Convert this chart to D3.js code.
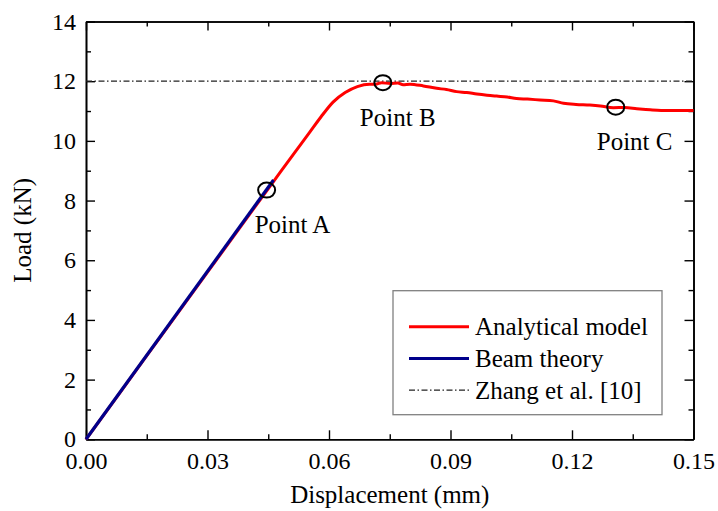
<!DOCTYPE html>
<meta charset="utf-8">
<style>
  body { margin: 0; background: #fff; }
  svg text { font-family: "Liberation Serif", "DejaVu Serif", serif; fill: #000; }
</style>
<body>
<div class="chart"></div>
<script src="https://d3js.org/d3.v7.min.js"></script>
<script>
// values
const modelDisp = [0, 0.0150, 0.0300, 0.0462, 0.0512, 0.0553, 0.0580, 0.0610, 0.0640, 0.0670, 0.0700,
    0.0715, 0.0730, 0.0751, 0.0770, 0.0783, 0.0800, 0.0833, 0.0866, 0.0890, 0.0915, 0.0940, 0.0965,
    0.0990, 0.1014, 0.1040, 0.1063, 0.1090, 0.1121, 0.1154, 0.1179, 0.1210, 0.1244, 0.1270, 0.1302,
    0.1330, 0.1360, 0.1393, 0.1420, 0.1460, 0.1500];
const modelLoad = [0, 2.80, 5.60, 8.62, 9.55, 10.30, 10.80, 11.30, 11.62, 11.82, 11.90,
    11.90, 11.95, 11.92, 11.94, 11.88, 11.90, 11.84, 11.76, 11.72, 11.65, 11.62, 11.57,
    11.53, 11.50, 11.47, 11.42, 11.40, 11.37, 11.34, 11.26, 11.22, 11.20, 11.17, 11.11,
    11.12, 11.08, 11.04, 11.02, 11.02, 11.02];
const beamDisp = [0, 0.0463];
const beamLoad = [0, 8.69];
const zhangLoad = 12;
const pointDisp = [0.0446, 0.0733, 0.1308];
const pointLoad = [8.35, 11.95, 11.13];
const pointNames = ["Point A", "Point B", "Point C"];
const xTicks = [0, 0.03, 0.06, 0.09, 0.12, 0.15];
const yTicks = [0, 2, 4, 6, 8, 10, 12, 14];
const legendNames = ["Analytical model", "Beam theory", "Zhang et al. [10]"];

const width = 718, height = 511;
const margin = {top: 21.5, right: 24.5, bottom: 71.7, left: 86};
const red = "#ff0000", navy = "#00008b";
const dashDot = "6,2.5,1.5,2.5";
const serif = '"Liberation Serif", "DejaVu Serif", serif';

let svg = d3.select(".chart").append("svg")
    .attr("width", width)
    .attr("height", height);

let x = d3.scaleLinear().domain([0, 0.15]).range([margin.left, width - margin.right]);
let y = d3.scaleLinear().domain([0, 14]).range([height - margin.bottom, margin.top]);

let minorX = d3.range(0.015, 0.15, 0.03);
let minorY = d3.range(1, 14, 2);

function styleAxis(g) {
    g.attr("font-family", serif).attr("font-size", 24);
    g.selectAll("path.domain").attr("stroke", "#000").attr("stroke-width", 1.6);
    g.selectAll(".tick line").attr("stroke", "#000").attr("stroke-width", 1.4);
    g.selectAll("text").attr("fill", "#000");
}

// bottom / top axes
svg.append("g")
    .attr("transform", `translate(0,${y(0)})`)
    .call(d3.axisBottom(x).tickValues(xTicks).tickFormat(d3.format(".2f")).tickSize(-9).tickSizeOuter(0).tickPadding(13))
    .call(styleAxis);
svg.append("g")
    .attr("transform", `translate(0,${y(0)})`)
    .call(d3.axisBottom(x).tickValues(minorX).tickFormat("").tickSize(-5).tickSizeOuter(0))
    .call(styleAxis);
svg.append("g")
    .attr("transform", `translate(0,${y(14)})`)
    .call(d3.axisTop(x).tickValues(xTicks).tickFormat("").tickSize(-9).tickSizeOuter(0))
    .call(styleAxis);
svg.append("g")
    .attr("transform", `translate(0,${y(14)})`)
    .call(d3.axisTop(x).tickValues(minorX).tickFormat("").tickSize(-5).tickSizeOuter(0))
    .call(styleAxis);

// left / right axes
svg.append("g")
    .attr("transform", `translate(${x(0)},0)`)
    .call(d3.axisLeft(y).tickValues(yTicks).tickSize(-9).tickSizeOuter(0).tickPadding(10))
    .call(styleAxis);
svg.append("g")
    .attr("transform", `translate(${x(0)},0)`)
    .call(d3.axisLeft(y).tickValues(minorY).tickFormat("").tickSize(-5).tickSizeOuter(0))
    .call(styleAxis);
svg.append("g")
    .attr("transform", `translate(${x(0.15)},0)`)
    .call(d3.axisRight(y).tickValues(yTicks).tickFormat("").tickSize(-9).tickSizeOuter(0))
    .call(styleAxis);
svg.append("g")
    .attr("transform", `translate(${x(0.15)},0)`)
    .call(d3.axisRight(y).tickValues(minorY).tickFormat("").tickSize(-5).tickSizeOuter(0))
    .call(styleAxis);

// axis titles
svg.append("text")
    .attr("x", (x(0) + x(0.15)) / 2)
    .attr("y", 503)
    .attr("text-anchor", "middle")
    .attr("font-family", serif)
    .attr("font-size", 25)
    .text("Displacement (mm)");
svg.append("text")
    .attr("transform", `translate(31,${(y(0) + y(14)) / 2}) rotate(-90)`)
    .attr("text-anchor", "middle")
    .attr("font-family", serif)
    .attr("font-size", 25)
    .text("Load (kN)");

// Zhang et al. reference line
svg.append("line")
    .attr("x1", x(0)).attr("x2", x(0.15))
    .attr("y1", y(zhangLoad)).attr("y2", y(zhangLoad))
    .attr("stroke", "#222")
    .attr("stroke-width", 1.2)
    .attr("stroke-dasharray", dashDot);

let line = d3.line()
    .x(d => x(d[0]))
    .y(d => y(d[1]))
    .curve(d3.curveMonotoneX);

svg.append("path")
    .datum(d3.zip(modelDisp, modelLoad))
    .attr("fill", "none")
    .attr("stroke", red)
    .attr("stroke-width", 3)
    .attr("stroke-linejoin", "round")
    .attr("d", line);

svg.append("path")
    .datum(d3.zip(beamDisp, beamLoad))
    .attr("fill", "none")
    .attr("stroke", navy)
    .attr("stroke-width", 3.2)
    .attr("d", line);

// marked points
let labelDx = [-12, -23, -19];
let pts = svg.append("g")
    .selectAll("g")
    .data(d3.range(pointNames.length))
    .join("g")
    .attr("transform", i => `translate(${x(pointDisp[i])},${y(pointLoad[i])})`);
pts.append("ellipse")
    .attr("rx", 8.5).attr("ry", 7.5)
    .attr("fill", "none")
    .attr("stroke", "#000")
    .attr("stroke-width", 2);
pts.append("text")
    .attr("x", i => labelDx[i])
    .attr("y", 43)
    .attr("font-family", serif)
    .attr("font-size", 25)
    .text(i => pointNames[i]);

// legend
let lg = svg.append("g").attr("transform", "translate(393,290.7)");
lg.append("rect")
    .attr("width", 269).attr("height", 124)
    .attr("fill", "#fff")
    .attr("stroke", "#808080")
    .attr("stroke-width", 1.3);
let legendStyle = [
    {color: red, width: 3, dash: null},
    {color: navy, width: 3, dash: null},
    {color: "#222", width: 1.2, dash: dashDot}
];
let rows = lg.selectAll("g.row")
    .data(legendNames)
    .join("g")
    .attr("class", "row")
    .attr("transform", (d, i) => `translate(0,${36 + i * 31.7})`);
rows.append("line")
    .attr("x1", 16).attr("x2", 76)
    .attr("stroke", (d, i) => legendStyle[i].color)
    .attr("stroke-width", (d, i) => legendStyle[i].width)
    .attr("stroke-dasharray", (d, i) => legendStyle[i].dash);
rows.append("text")
    .attr("x", 82)
    .attr("y", 8.5)
    .attr("font-family", serif)
    .attr("font-size", 25)
    .text(d => d);
</script>
</body>
